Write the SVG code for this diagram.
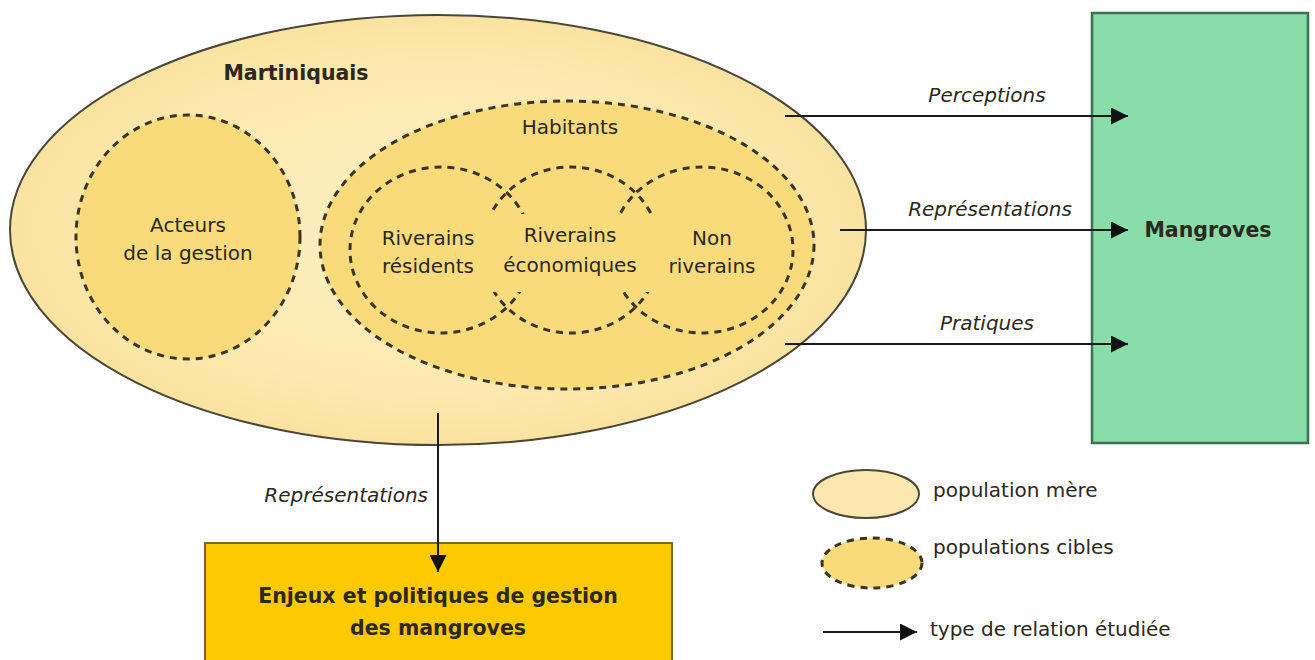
<svg xmlns="http://www.w3.org/2000/svg" width="1315" height="660" viewBox="0 0 1315 660">
<defs>
  <radialGradient id="gOuter" cx="50%" cy="50%" r="50%">
    <stop offset="0" stop-color="#fdf0c6"/>
    <stop offset="0.75" stop-color="#fce9ae"/>
    <stop offset="1" stop-color="#fae3a0"/>
  </radialGradient>
  <mask id="textGap" maskUnits="userSpaceOnUse" x="0" y="0" width="1315" height="660">
    <rect x="0" y="0" width="1315" height="660" fill="#fff"/>
    <rect x="477" y="214" width="188" height="78" fill="#000"/>
  </mask>
  <marker id="arr" viewBox="0 0 10 10" refX="10" refY="5" markerWidth="20" markerHeight="17" markerUnits="userSpaceOnUse" orient="auto">
    <path d="M0,0 L10,5 L0,10 Z" fill="#111"/>
  </marker>
  <style>
    .txt{font-family:"DejaVu Sans",Verdana,sans-serif;font-size:20px;fill:#2b2820;text-anchor:middle}
    .bold{font-weight:bold;font-size:20.5px}
    .it{font-style:italic}
    .left{text-anchor:start}
    .right{text-anchor:end}
    .outer{fill:url(#gOuter);stroke:#4a4638;stroke-width:2}
    .target{fill:#fadb7c;stroke:#3b3424;stroke-width:3;stroke-dasharray:7 6}
    .targetNoFill{fill:none;stroke:#3b3424;stroke-width:3;stroke-dasharray:7 6}
    .conn{stroke:#1a1a1a;stroke-width:2;fill:none;marker-end:url(#arr)}
  </style>
</defs>
<rect width="1315" height="660" fill="#ffffff"/>

<g id="martiniquais">
  <ellipse class="outer" cx="438" cy="230" rx="428" ry="215"/>
  <text class="txt bold" x="296" y="80">Martiniquais</text>
</g>

<g id="acteurs">
  <ellipse class="target" cx="188" cy="237" rx="112" ry="122"/>
  <text class="txt" x="188" y="232">Acteurs</text>
  <text class="txt" x="188" y="260">de la gestion</text>
</g>

<g id="habitants">
  <ellipse class="target" cx="567" cy="245" rx="247" ry="144"/>
  <text class="txt" x="570" y="134">Habitants</text>
</g>

<g id="riverains-residents">
  <ellipse class="targetNoFill" cx="441" cy="250" rx="91" ry="83" mask="url(#textGap)"/>
  <text class="txt" x="428" y="245">Riverains</text>
  <text class="txt" x="428" y="273">résidents</text>
</g>

<g id="riverains-economiques">
  <ellipse class="targetNoFill" cx="571" cy="250" rx="89" ry="83" mask="url(#textGap)"/>
  <text class="txt" x="570" y="242">Riverains</text>
  <text class="txt" x="570" y="272">économiques</text>
</g>

<g id="non-riverains">
  <ellipse class="targetNoFill" cx="702" cy="250" rx="91" ry="83" mask="url(#textGap)"/>
  <text class="txt" x="712" y="245">Non</text>
  <text class="txt" x="712" y="273">riverains</text>
</g>

<g id="mangroves">
  <rect x="1092" y="13" width="216" height="430" fill="#88dda8" stroke="#3f6f52" stroke-width="2.5"/>
  <text class="txt bold" x="1208" y="237">Mangroves</text>
</g>

<g id="enjeux">
  <rect x="205" y="543" width="467" height="130" fill="#fdca02" stroke="#7a6530" stroke-width="2"/>
  <text class="txt bold" x="438" y="603">Enjeux et politiques de gestion</text>
  <text class="txt bold" x="438" y="635">des mangroves</text>
</g>

<g id="connectors">
  <line class="conn" x1="785" y1="116" x2="1128" y2="116"/>
  <text class="txt it" x="987" y="102">Perceptions</text>
  <line class="conn" x1="840" y1="230" x2="1128" y2="230"/>
  <text class="txt it" x="990" y="216">Représentations</text>
  <line class="conn" x1="785" y1="344" x2="1128" y2="344"/>
  <text class="txt it" x="987" y="330">Pratiques</text>
  <line class="conn" x1="438" y1="413" x2="438" y2="572"/>
  <text class="txt it right" x="428" y="502">Représentations</text>
</g>

<g id="legend">
  <ellipse class="outer" style="fill:#fce8ae" cx="866" cy="494" rx="53" ry="24"/>
  <text class="txt left" x="933" y="497">population mère</text>
  <ellipse class="target" cx="872" cy="563" rx="50" ry="25"/>
  <text class="txt left" x="933" y="554">populations cibles</text>
  <line class="conn" x1="823" y1="632" x2="917" y2="632"/>
  <text class="txt left" x="930" y="636">type de relation étudiée</text>
</g>
</svg>
